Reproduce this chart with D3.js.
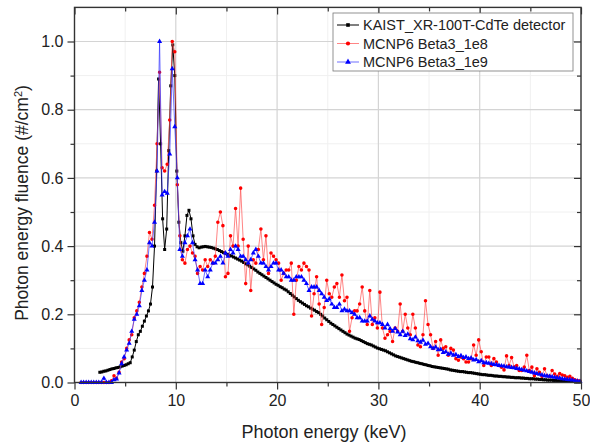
<!DOCTYPE html>
<html>
<head>
<meta charset="utf-8">
<script src="https://cdn.jsdelivr.net/npm/d3@7"></script>
<style>
  body { margin: 0; background: #fff; }
  text { font-family: "Liberation Sans", Arial, sans-serif; fill: #222; }
</style>
</head>
<body>
<svg id="chart" width="590" height="447"></svg>
<script>
// energy grids (keV): measured bins start + step
var kaistStart = 2.5, kaistStep = 0.2;
var mcnpStart = 0.65, mcnpStep = 0.25;

// KAIST_XR-100T-CdTe detector, one row = 2 keV
var kaistFluence = [
  0.030,0.031,0.033,0.034,0.036,0.038,0.040,0.041,0.043,0.044,
  0.046,0.048,0.050,0.052,0.055,0.058,0.075,0.095,0.120,0.140,
  0.150,0.165,0.180,0.195,0.210,0.230,0.280,0.400,0.620,0.890,
  0.700,0.480,0.390,0.450,0.680,0.870,0.990,0.900,0.620,0.470,
  0.410,0.385,0.430,0.490,0.505,0.480,0.430,0.405,0.398,0.395,
  0.397,0.398,0.399,0.398,0.397,0.396,0.394,0.392,0.390,0.387,
  0.384,0.381,0.378,0.376,0.373,0.371,0.368,0.365,0.362,0.359,
  0.356,0.352,0.348,0.345,0.341,0.337,0.333,0.329,0.324,0.320,
  0.316,0.312,0.308,0.304,0.300,0.296,0.292,0.288,0.285,0.281,
  0.278,0.274,0.271,0.266,0.261,0.256,0.251,0.246,0.241,0.237,
  0.233,0.229,0.225,0.222,0.218,0.215,0.212,0.208,0.205,0.200,
  0.195,0.189,0.184,0.179,0.174,0.170,0.166,0.162,0.158,0.154,
  0.150,0.146,0.142,0.139,0.136,0.133,0.130,0.128,0.126,0.123,
  0.120,0.117,0.114,0.112,0.110,0.107,0.104,0.101,0.099,0.097,
  0.095,0.093,0.090,0.087,0.084,0.081,0.078,0.076,0.074,0.072,
  0.070,0.068,0.066,0.064,0.062,0.061,0.059,0.058,0.056,0.055,
  0.053,0.052,0.050,0.049,0.047,0.046,0.045,0.044,0.043,0.042,
  0.041,0.040,0.039,0.037,0.036,0.035,0.034,0.033,0.032,0.032,
  0.031,0.030,0.029,0.029,0.028,0.027,0.026,0.025,0.024,0.023,
  0.023,0.022,0.021,0.021,0.020,0.019,0.019,0.018,0.018,0.017,
  0.017,0.016,0.016,0.015,0.015,0.014,0.014,0.014,0.013,0.013,
  0.012,0.012,0.011,0.011,0.011,0.010,0.010,0.009,0.009,0.008,
  0.008,0.007,0.007,0.007,0.006,0.006,0.005,0.005,0.005,0.004,
  0.004,0.004,0.003,0.003,0.003,0.002,0.002,0.002
];

// MCNP6 Beta3_1e8, one row = 2 keV
var mcnp1e8Fluence = [
  0,0,0,0,0,0,0,0,
  0,0,0,0,0.005,0.020,0.012,0.030,
  0.060,0.070,0.100,0.125,0.140,0.190,0.210,0.235,
  0.280,0.320,0.370,0.440,0.420,0.520,0.700,0.910,
  0.630,0.620,0.640,0.770,1.000,0.970,0.580,0.430,
  0.360,0.350,0.390,0.400,0.380,0.370,0.320,0.340,
  0.330,0.360,0.340,0.360,0.350,0.370,0.470,0.500,
  0.460,0.310,0.320,0.430,0.400,0.510,0.400,0.570,
  0.420,0.290,0.400,0.270,0.360,0.350,0.390,0.450,
  0.360,0.430,0.320,0.380,0.370,0.360,0.350,0.300,
  0.320,0.330,0.330,0.350,0.200,0.300,0.340,0.330,
  0.350,0.340,0.330,0.195,0.260,0.310,0.230,0.170,
  0.220,0.300,0.260,0.250,0.280,0.290,0.250,0.315,
  0.240,0.250,0.150,0.190,0.210,0.210,0.230,0.280,
  0.210,0.170,0.270,0.170,0.190,0.160,0.265,0.160,
  0.130,0.140,0.150,0.120,0.160,0.150,0.230,0.150,
  0.200,0.160,0.140,0.200,0.160,0.110,0.105,0.140,
  0.240,0.170,0.140,0.100,0.120,0.080,0.125,0.100,
  0.105,0.080,0.100,0.095,0.070,0.065,0.075,0.070,
  0.060,0.060,0.070,0.110,0.080,0.125,0.090,0.050,
  0.075,0.075,0.050,0.070,0.060,0.050,0.045,0.037,
  0.078,0.050,0.073,0.045,0.050,0.035,0.035,0.045,
  0.080,0.035,0.045,0.020,0.040,0.030,0.018,0.040,
  0.020,0.018,0.035,0.025,0.018,0.026,0.022,0.020,
  0.015,0.018,0.012,0.008,0.006,0.004
];

// MCNP6 Beta3_1e9, one row = 2 keV
var mcnp1e9Fluence = [
  0,0,0,0,0,0,0,0,
  0,0.012,0,0,0,0.008,0.010,0.028,
  0.055,0.075,0.095,0.115,0.150,0.185,0.200,0.225,
  0.270,0.300,0.330,0.410,0.400,0.470,0.620,1.000,
  0.550,0.560,0.555,0.670,0.920,0.750,0.600,0.390,
  0.370,0.410,0.430,0.450,0.410,0.360,0.330,0.290,
  0.290,0.330,0.310,0.330,0.350,0.350,0.360,0.370,
  0.350,0.380,0.370,0.390,0.380,0.400,0.390,0.370,
  0.370,0.360,0.350,0.360,0.380,0.390,0.370,0.350,
  0.350,0.340,0.330,0.340,0.350,0.350,0.330,0.330,
  0.320,0.310,0.310,0.300,0.300,0.310,0.310,0.310,
  0.300,0.290,0.270,0.280,0.280,0.280,0.270,0.260,
  0.250,0.240,0.245,0.230,0.220,0.220,0.230,0.210,
  0.215,0.210,0.210,0.205,0.200,0.190,0.190,0.180,
  0.180,0.180,0.195,0.185,0.180,0.175,0.175,0.170,
  0.160,0.170,0.158,0.150,0.158,0.148,0.140,0.150,
  0.138,0.142,0.128,0.125,0.133,0.122,0.118,0.124,
  0.112,0.115,0.105,0.100,0.104,0.096,0.097,0.088,
  0.090,0.083,0.086,0.080,0.082,0.076,0.079,0.073,
  0.075,0.070,0.072,0.066,0.067,0.061,0.064,0.058,
  0.058,0.056,0.055,0.053,0.052,0.050,0.049,0.048,
  0.046,0.045,0.044,0.043,0.041,0.040,0.038,0.036,
  0.034,0.032,0.030,0.028,0.026,0.024,0.022,0.020,
  0.019,0.018,0.017,0.015,0.014,0.013,0.011,0.010,
  0.009,0.008,0.007,0.005,0.004,0.003
];

var xMajor = [0, 10, 20, 30, 40, 50];
var xMinor = [5, 15, 25, 35, 45];
var yMajor = [0, 0.2, 0.4, 0.6, 0.8, 1.0];
var yMinor = [0.1, 0.3, 0.5, 0.7, 0.9];

var seriesNames = ['KAIST_XR-100T-CdTe detector', 'MCNP6 Beta3_1e8', 'MCNP6 Beta3_1e9'];

var svg = d3.select('#chart');
// plot box (note: "top" is taken by window.top, so use other names)
var pLeft = 74.5, pRight = 581, pTop = 7.4, pBottom = 382.5;

var x = d3.scaleLinear().domain([0, 50]).range([pLeft, pRight]);
var y = d3.scaleLinear().domain([0, 1.1]).range([pBottom, pTop]);

svg.append('rect').attr('width', 590).attr('height', 447).attr('fill', '#fff');

// grid
var grid = svg.append('g');
grid.selectAll('.vmin').data(xMinor).enter().append('line')
  .attr('x1', function(d){ return x(d); }).attr('x2', function(d){ return x(d); })
  .attr('y1', pTop).attr('y2', pBottom).attr('stroke', '#f0f0f0').attr('stroke-width', 1);
grid.selectAll('.hmin').data(yMinor).enter().append('line')
  .attr('y1', function(d){ return y(d); }).attr('y2', function(d){ return y(d); })
  .attr('x1', pLeft).attr('x2', pRight).attr('stroke', '#f0f0f0').attr('stroke-width', 1);
grid.selectAll('.vmaj').data(xMajor.slice(1, 5)).enter().append('line')
  .attr('x1', function(d){ return x(d); }).attr('x2', function(d){ return x(d); })
  .attr('y1', pTop).attr('y2', pBottom).attr('stroke', '#d4d4d4').attr('stroke-width', 1.2);
grid.selectAll('.hmaj').data(yMajor.slice(1)).enter().append('line')
  .attr('y1', function(d){ return y(d); }).attr('y2', function(d){ return y(d); })
  .attr('x1', pLeft).attr('x2', pRight).attr('stroke', '#d4d4d4').attr('stroke-width', 1.2);

// build point lists
function points(start, step, vals) {
  return vals.map(function(v, i){ return { e: start + i * step, v: v }; });
}
var kaist = points(kaistStart, kaistStep, kaistFluence);
var mc8 = points(mcnpStart, mcnpStep, mcnp1e8Fluence);
var mc9 = points(mcnpStart, mcnpStep, mcnp1e9Fluence);

var line = d3.line().x(function(d){ return x(d.e); }).y(function(d){ return y(d.v); });

var styles = [
  { data: kaist, line: '#000', lw: 1, fill: '#000', sym: d3.symbolSquare, size: 9 },
  { data: mc8, line: '#ff5050', lw: 0.7, fill: '#ff0000', sym: d3.symbolCircle, size: 10 },
  { data: mc9, line: '#3030ff', lw: 0.7, fill: '#0000ff', sym: d3.symbolTriangle, size: 11 }
];

styles.forEach(function(s){
  var g = svg.append('g');
  g.append('path').datum(s.data).attr('d', line)
    .attr('fill', 'none').attr('stroke', s.line).attr('stroke-width', s.lw);
  g.selectAll('path.pt').data(s.data).enter().append('path')
    .attr('class', 'pt')
    .attr('d', d3.symbol().type(s.sym).size(s.size))
    .attr('transform', function(d){ return 'translate(' + x(d.e) + ',' + y(d.v) + ')'; })
    .attr('fill', s.fill);
});

// axes
function styleAxis(g) {
  g.select('.domain').remove();
  g.selectAll('line').attr('stroke', '#333').attr('stroke-width', 1.2);
  g.selectAll('text').attr('font-size', 16).attr('fill', '#222')
    .attr('font-family', '"Liberation Sans", Arial, sans-serif');
}
svg.append('g').attr('transform', 'translate(0,' + pBottom + ')')
  .call(d3.axisBottom(x).tickValues(xMajor).tickFormat(d3.format('d')).tickSize(7).tickPadding(5))
  .call(styleAxis);
svg.append('g').attr('transform', 'translate(0,' + pBottom + ')')
  .call(d3.axisBottom(x).tickValues(xMinor).tickFormat('').tickSize(4)).call(styleAxis);
svg.append('g').attr('transform', 'translate(' + pLeft + ',0)')
  .call(d3.axisLeft(y).tickValues(yMajor).tickFormat(d3.format('.1f')).tickSize(7).tickPadding(4))
  .call(styleAxis);
svg.append('g').attr('transform', 'translate(' + pLeft + ',0)')
  .call(d3.axisLeft(y).tickValues(yMinor).tickFormat('').tickSize(4)).call(styleAxis);
// inward ticks on top and right
svg.append('g').attr('transform', 'translate(0,' + pTop + ')')
  .call(d3.axisTop(x).tickValues(xMajor).tickFormat('').tickSize(-7)).call(styleAxis);
svg.append('g').attr('transform', 'translate(0,' + pTop + ')')
  .call(d3.axisTop(x).tickValues(xMinor).tickFormat('').tickSize(-4)).call(styleAxis);
svg.append('g').attr('transform', 'translate(' + pRight + ',0)')
  .call(d3.axisRight(y).tickValues(yMajor).tickFormat('').tickSize(-7)).call(styleAxis);
svg.append('g').attr('transform', 'translate(' + pRight + ',0)')
  .call(d3.axisRight(y).tickValues(yMinor).tickFormat('').tickSize(-4)).call(styleAxis);

// frame
svg.append('rect').attr('x', pLeft).attr('y', pTop)
  .attr('width', pRight - pLeft).attr('height', pBottom - pTop)
  .attr('fill', 'none').attr('stroke', '#333').attr('stroke-width', 1.4);

// titles
svg.append('text').attr('x', 324).attr('y', 438).attr('text-anchor', 'middle')
  .attr('font-size', 18).text('Photon energy (keV)');
var yt = svg.append('text').attr('transform', 'translate(28,203) rotate(-90)')
  .attr('text-anchor', 'middle').attr('font-size', 17.5);
yt.append('tspan').text('Photon energy fluence (#/cm');
yt.append('tspan').attr('baseline-shift', 'super').attr('font-size', 11).text('2');
yt.append('tspan').text(')');

// legend
var lg = svg.append('g');
lg.append('rect').attr('x', 333).attr('y', 13).attr('width', 240).attr('height', 58)
  .attr('fill', '#fff').attr('stroke', '#777').attr('stroke-width', 0.8);
var rowY = [25, 43.5, 62];
styles.forEach(function(s, i){
  lg.append('line').attr('x1', 337).attr('x2', 359).attr('y1', rowY[i]).attr('y2', rowY[i])
    .attr('stroke', s.line).attr('stroke-width', s.lw);
  lg.append('path').attr('d', d3.symbol().type(s.sym).size(s.size + 4))
    .attr('transform', 'translate(348,' + rowY[i] + ')').attr('fill', s.fill);
  lg.append('text').attr('x', 363).attr('y', rowY[i]).attr('dy', '0.36em')
    .attr('font-size', 14.5).text(seriesNames[i]);
});
</script>
</body>
</html>
